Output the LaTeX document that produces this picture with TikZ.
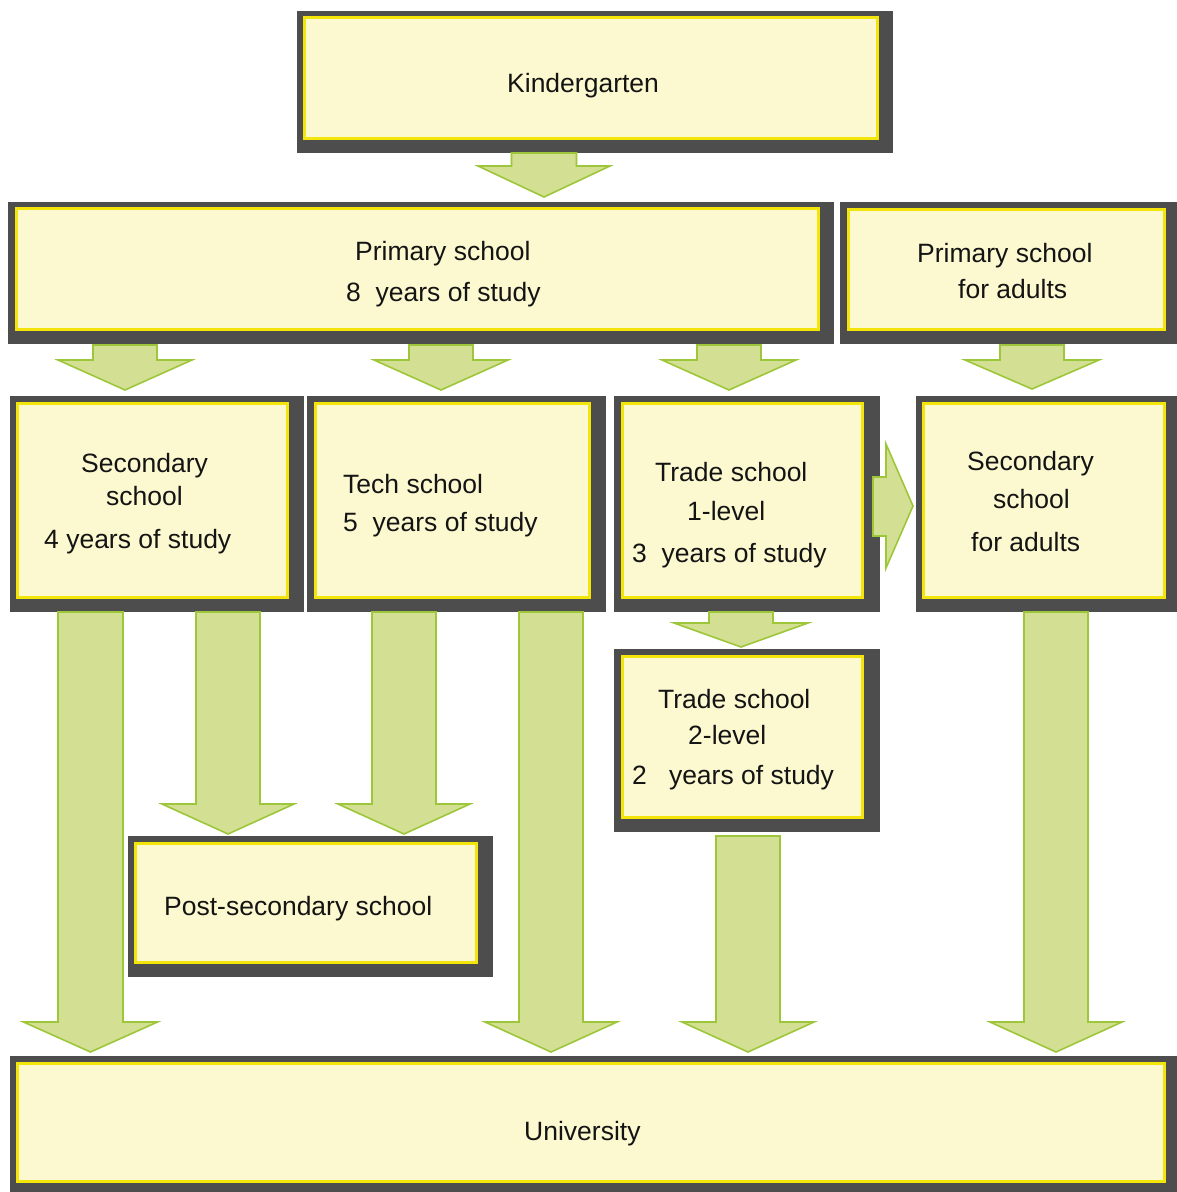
\documentclass[tikz,border=0pt]{standalone}
\usepackage{fontspec}
\setmainfont{Liberation Sans}
\definecolor{framegray}{HTML}{4D4D4D}
\definecolor{paper}{HTML}{FCF9D0}
\definecolor{edgeyellow}{HTML}{F3E40A}
\definecolor{arrfill}{HTML}{D3E093}
\definecolor{arredge}{HTML}{9EC63A}
\tikzset{
  outerbox/.style={fill=framegray, draw=none, inner sep=0pt},
  innerbox/.style={fill=paper, draw=edgeyellow, line width=3pt, inner sep=0pt},
  blockarrow/.style={fill=arrfill, draw=arredge, line width=1.6pt, line join=miter},
  lbl/.style={font=\fontsize{26.5}{30}\selectfont, text=black!92, inner sep=0pt, anchor=base west}
}
% name, outer x1 y1 x2 y2, inner x1 y1 x2 y2
\newcommand\eduBox[9]{%
  \node[outerbox, minimum width={(#4-#2)*1pt}, minimum height={(#5-#3)*1pt}] (#1) at ({(#2+#4)/2},{(#3+#5)/2}) {};
  \node[innerbox, minimum width={(#8-#6)*1pt}, minimum height={(#9-#7)*1pt}] (#1-in) at ({(#6+#8)/2},{(#7+#9)/2}) {};
}
% cx, top, shoulder, tip, halfshaft, halfhead
\newcommand\downArrow[6]{%
  \draw[blockarrow] ({#1-#5},{#2}) -- ({#1-#5},{#3}) -- ({#1-#6},{#3}) -- ({#1},{#4}) -- ({#1+#6},{#3}) -- ({#1+#5},{#3}) -- ({#1+#5},{#2}) -- cycle;
}
\begin{document}
\begin{tikzpicture}[x=1pt,y=-1pt]
\useasboundingbox (0,0) rectangle (1177,1192);
% boxes
\eduBox{kg}{297}{11}{893}{153}{304}{17}{877}{138}
\eduBox{prim}{8}{202}{834}{344}{16}{208}{818}{329}
\eduBox{primad}{840}{202}{1177}{344}{848}{209}{1164}{329}
\eduBox{sec}{10}{396}{304}{612}{17}{403}{287}{597}
\eduBox{tech}{307}{396}{606}{612}{315}{403}{589}{597}
\eduBox{tradeA}{614}{396}{880}{612}{622}{403}{862}{597}
\eduBox{secad}{916}{396}{1177}{612}{923}{403}{1164}{597}
\eduBox{tradeB}{614}{649}{880}{832}{622}{656}{862}{817}
\eduBox{post}{128}{836}{493}{977}{135}{843}{476}{962}
\eduBox{uni}{10}{1056}{1177}{1192}{17}{1063}{1164}{1181}
% arrows
\downArrow{544}{153}{166}{197}{32.5}{66}
\downArrow{125}{345}{360}{390}{32}{67}
\downArrow{441}{345}{360}{390}{32}{67}
\downArrow{729}{345}{360}{390}{32}{67}
\downArrow{1032}{345}{360}{389}{32}{67}
\downArrow{741}{612}{623}{647}{32}{67}
\downArrow{90.5}{612}{1022}{1052}{32.5}{67}
\downArrow{228}{612}{804}{834}{32}{66}
\downArrow{404}{612}{804}{834}{32}{66}
\downArrow{551}{612}{1022}{1052}{32}{66}
\downArrow{748}{836}{1022}{1052}{32}{66}
\downArrow{1056}{612}{1022}{1052}{32}{66}
\draw[blockarrow] (873,477) -- (886,477) -- (886,444) -- (913,506) -- (886,568) -- (886,536) -- (873,536) -- cycle;
% labels
\node[lbl] (kg-t) at (507,92) {Kindergarten};
\node[lbl] (prim-t1) at (355,260) {Primary school};
\node[lbl] (prim-t2) at (346,301) {8\ \ years of study};
\node[lbl] (primad-t1) at (917,262) {Primary school};
\node[lbl] (primad-t2) at (958,298) {for adults};
\node[lbl] (sec-t1) at (81,472) {Secondary};
\node[lbl] (sec-t2) at (106,505) {school};
\node[lbl] (sec-t3) at (44,548) {4 years of study};
\node[lbl] (tech-t1) at (343,493) {Tech school};
\node[lbl] (tech-t2) at (343,531) {5\ \ years of study};
\node[lbl] (tradeA-t1) at (655,481) {Trade school};
\node[lbl] (tradeA-t2) at (687,520) {1-level};
\node[lbl] (tradeA-t3) at (632,562) {3\ \ years of study};
\node[lbl] (secad-t1) at (967,470) {Secondary};
\node[lbl] (secad-t2) at (993,508) {school};
\node[lbl] (secad-t3) at (971,551) {for adults};
\node[lbl] (tradeB-t1) at (658,708) {Trade school};
\node[lbl] (tradeB-t2) at (688,744) {2-level};
\node[lbl] (tradeB-t3) at (632,784) {2\ \ \ years of study};
\node[lbl] (post-t) at (164,915) {Post-secondary school};
\node[lbl] (uni-t) at (524,1140) {University};
\end{tikzpicture}
\end{document}
